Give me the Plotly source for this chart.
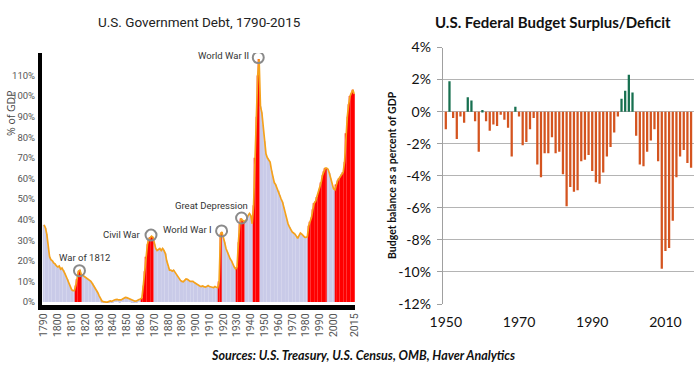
import plotly.graph_objects as go

# ---------------- DATA ----------------
debt_years = list(range(1790, 2016))
debt_pct = [
    37.5, 36, 33, 27, 22, 20.5, 20, 19, 18.5, 17.5,          # 1790-1799
    17, 17.5, 16, 16.5, 15.5, 14, 12.5, 11, 9, 7.5,          # 1800-1809
    6, 5.5, 5.5, 8, 11, 15, 15.5, 13.5, 13, 12.5,            # 1810-1819
    12, 11.5, 11, 10.7, 10, 9, 8, 7, 5.5, 4.5,               # 1820-1829
    3, 1.5, 0.5, 0.2, 0, 0, 0, 0.2, 0.5, 0.3,                # 1830-1839
    0.8, 1, 1.2, 1.3, 1, 0.9, 1, 1.5, 2, 2.2,                # 1840-1849
    2.1, 1.8, 1.5, 1, 0.8, 0.5, 0.4, 0.5, 1, 1.2,            # 1850-1859
    1.5, 2, 8, 15, 22, 28, 30.5, 31.5, 32, 31.5,             # 1860-1869
    28, 26, 25, 25.5, 26, 25, 26, 25, 23.5, 20,              # 1870-1879
    17, 15.5, 15.5, 15, 15.5, 14.5, 13, 12, 11, 10.5,        # 1880-1889
    10, 9.8, 10.5, 11.2, 11, 10.5, 10, 10, 10, 9.5,          # 1890-1899
    9, 8.5, 8, 7.8, 7.5, 7.8, 7.5, 7.3, 7.5, 8,              # 1900-1909
    7.5, 7.2, 7.2, 7, 7.5, 7.2, 7, 10, 33, 34,               # 1910-1919
    32, 29, 26, 24, 22, 21, 20, 18, 17, 16,                  # 1920-1929
    17, 29, 38, 40.5, 39.5, 39, 39.5, 40, 42, 43,            # 1930-1939
    42, 38, 47, 70, 90, 110, 118, 95, 92, 86,                # 1940-1949
    78, 72, 70, 69, 68, 64, 61, 58, 57, 55,                  # 1950-1959
    54, 52, 50, 48.5, 46, 43, 40, 38, 36.5, 35,              # 1960-1969
    34, 33.5, 33, 32, 30.9, 32.2, 33.5, 33, 32, 31.5,        # 1970-1979
    31.4, 31.7, 37, 39, 41, 45, 48, 49, 51, 53,              # 1980-1989
    55, 58, 61.5, 63.5, 65, 65, 64.5, 62.5, 60, 57.5,        # 1990-1999
    55, 54.5, 57, 59, 60, 61, 62, 63, 68, 82,                # 2000-2009
    90, 96, 100, 101.5, 103, 101,                            # 2010-2015
]
# periods highlighted in red (first year, last year)
red_periods = [(1813, 1817), (1861, 1869), (1917, 1919), (1930, 1935),
               (1942, 1946), (1982, 1995), (2002, 2015)]

event_names = ["War of 1812", "Civil War", "World War I", "Great Depression", "World War II"]
event_years = [1815.7, 1867.6, 1918.8, 1933.3, 1945.4]
event_values = [15.2, 32.5, 34.5, 40.8, 118.7]

debt_tickvals = list(range(1790, 2001, 10)) + [2015]
debt_ticktext = [str(v) for v in debt_tickvals]
debt_ytickvals = list(range(0, 111, 10))
debt_yticktext = [f"{v}%" for v in debt_ytickvals]

deficit_years = list(range(1950, 2018))
deficit_pct = [
    -1.1, 1.9, -0.4, -1.7, -0.3, -0.7, 0.9, 0.7, -0.6, -2.5,   # 1950-1959
    0.1, -0.6, -1.2, -0.8, -0.9, -0.2, -0.5, -1.0, -2.8, 0.3,  # 1960-1969
    -0.3, -2.1, -1.9, -1.1, -0.4, -3.3, -4.1, -2.6, -2.6, -1.6, # 1970-1979
    -2.6, -2.5, -3.9, -5.9, -4.7, -5.0, -4.9, -3.1, -3.0, -2.7, # 1980-1989
    -3.7, -4.4, -4.5, -3.8, -2.8, -2.2, -1.3, -0.3, 0.8, 1.3,  # 1990-1999
    2.3, 1.2, -1.5, -3.3, -3.4, -2.5, -1.8, -1.1, -3.1, -9.8,  # 2000-2009
    -8.7, -8.5, -6.8, -4.1, -2.8, -2.4, -3.2, -3.5,            # 2010-2017
]
deficit_ytickvals = [4, 2, 0, -2, -4, -6, -8, -10, -12]
deficit_yticktext = [f"{v}%" for v in deficit_ytickvals]
deficit_xtickvals = [1950, 1970, 1990, 2010]

# ---------------- STYLE ----------------
W, H = 700, 367
LAV = "#c9cbe8"
RED = "#ff0000"
ORANGE_LINE = "#f5a21c"
GREEN = "#177050"
BURNT = "#d4541f"
LEFT_FONT = "Roboto, sans-serif"
CAL = "Lato, Carlito, Calibri, sans-serif"


def px_x(p):
    return p / W


def px_y(p):
    return 1 - p / H


def is_red(y):
    return any(a <= y <= b for a, b in red_periods)


debt_colors = [RED if is_red(y) else LAV for y in debt_years]
deficit_colors = [GREEN if v > 0 else BURNT for v in deficit_pct]

fig = go.Figure()

fig.add_trace(go.Bar(x=debt_years, y=debt_pct, marker=dict(color=debt_colors, line=dict(width=0)),
                     width=0.86, xaxis="x", yaxis="y", hoverinfo="skip", showlegend=False))
fig.add_trace(go.Scatter(x=debt_years, y=debt_pct, mode="lines",
                         line=dict(color=ORANGE_LINE, width=1.7), xaxis="x", yaxis="y",
                         showlegend=False, hoverinfo="skip"))
fig.add_trace(go.Scatter(x=event_years, y=event_values, mode="markers",
                         marker=dict(symbol="circle-open", size=11, color="#8a8a8a",
                                     line=dict(width=2, color="#8a8a8a")),
                         xaxis="x", yaxis="y", showlegend=False, hoverinfo="skip"))

fig.add_trace(go.Bar(x=deficit_years, y=deficit_pct, marker=dict(color=deficit_colors, line=dict(width=0)),
                     width=0.62, xaxis="x2", yaxis="y2", hoverinfo="skip", showlegend=False))

# label placement (year, value, anchor) for the event annotations
label_pos = [(1819.3, 21.7, "center"), (1861.8, 33.0, "right"), (1913.4, 35.3, "right"),
             (1911.4, 47.1, "center"), (1940.1, 119.9, "right")]
annotations = []
for name, (lx, ly, anc) in zip(event_names, label_pos):
    annotations.append(dict(x=lx, y=ly, xref="x", yref="y", text=name, showarrow=False,
                            font=dict(family=LEFT_FONT, size=9.5, color="#333333"),
                            xanchor=anc, yanchor="middle"))

annotations += [
    dict(x=px_x(199.5), y=px_y(22.5), xref="paper", yref="paper",
         text="U.S. Government Debt, 1790-2015", showarrow=False,
         font=dict(family=LEFT_FONT, size=13.5, color="#222222"), xanchor="center", yanchor="middle"),
    dict(x=px_x(11), y=px_y(113), xref="paper", yref="paper", text="% of GDP", textangle=-90,
         showarrow=False, font=dict(family="Open Sans, sans-serif", size=10.5, color="#444444"),
         xanchor="center", yanchor="middle"),
    dict(x=px_x(552.5), y=px_y(22.5), xref="paper", yref="paper",
         text="<b>U.S. Federal Budget Surplus/Deficit</b>", showarrow=False,
         font=dict(family=CAL, size=15, color="#111111"), xanchor="center", yanchor="middle"),
    dict(x=px_x(392), y=px_y(175), xref="paper", yref="paper",
         text="<b>Budget balance as a percent of GDP</b>", textangle=-90, showarrow=False,
         font=dict(family=CAL, size=10.5, color="#111111"), xanchor="center", yanchor="middle"),
    dict(x=px_x(363), y=px_y(355), xref="paper", yref="paper",
         text="<b><i>Sources: U.S. Treasury, U.S. Census, OMB, Haver Analytics</i></b>",
         showarrow=False, font=dict(family=CAL, size=12.5, color="#111111"),
         xanchor="center", yanchor="middle"),
]

fig.update_layout(
    width=W, height=H, margin=dict(l=0, r=0, t=0, b=0, autoexpand=False),
    paper_bgcolor="white", plot_bgcolor="white",
    showlegend=False, barmode="overlay",
    annotations=annotations,
    xaxis=dict(domain=[px_x(41.7), px_x(355.3)], range=[1788.3, 2015.8], automargin=False,
               tickvals=debt_tickvals, ticktext=debt_ticktext, tickangle=-90,
               showline=True, linecolor="black", linewidth=4.5, showgrid=False, zeroline=False,
               ticks="", tickfont=dict(family=LEFT_FONT, size=10.5, color="#555555"), anchor="y"),
    yaxis=dict(domain=[px_y(304.5), px_y(53)], range=[-1.2, 120.9], automargin=False,
               tickvals=debt_ytickvals, ticktext=debt_yticktext,
               showline=True, linecolor="black", linewidth=3.5, showgrid=False, zeroline=False,
               ticks="", ticklabelstandoff=1,
               tickfont=dict(family=LEFT_FONT, size=9.5, color="#555555"), anchor="x"),
    xaxis2=dict(domain=[px_x(442.7), px_x(694)], range=[1949.15, 2017.8], automargin=False,
                tickvals=deficit_xtickvals, showline=False, showgrid=False, zeroline=False,
                ticks="", ticklabelstandoff=8,
                tickfont=dict(family=CAL, size=14, color="#111111"), anchor="y2"),
    yaxis2=dict(domain=[px_y(304), px_y(47.5)], range=[-12, 4], automargin=False,
                tickvals=deficit_ytickvals, ticktext=deficit_yticktext,
                showline=True, linecolor="#a0a0a0", linewidth=1,
                showgrid=True, gridcolor="#b4b4b4", gridwidth=1.2, zeroline=False,
                ticks="outside", ticklen=5, tickcolor="#a0a0a0", ticklabelstandoff=3,
                tickfont=dict(family=CAL, size=14, color="#111111"), anchor="x2"),
)

fig.write_html("out.html", config={"displayModeBar": False},
               post_script="document.body.style.margin='0';document.body.style.overflow='hidden';")
